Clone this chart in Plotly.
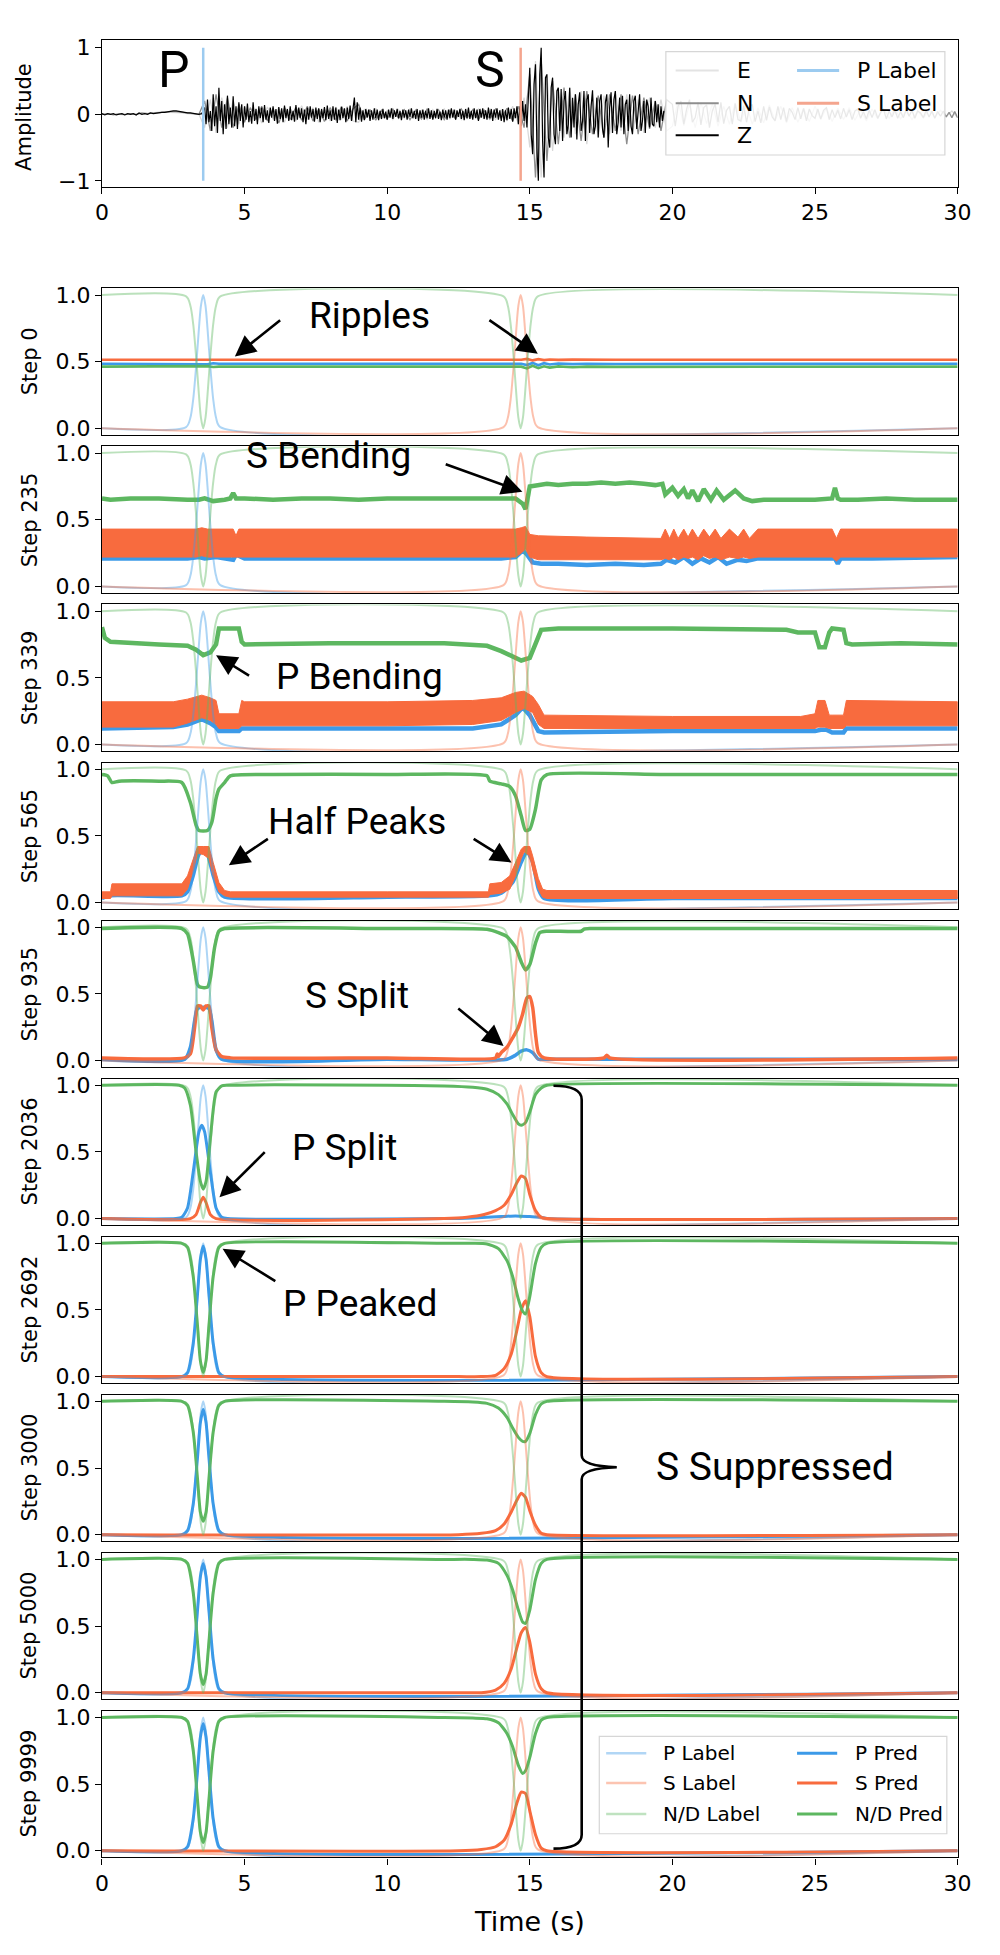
import plotly.graph_objects as go

# ====================== DATA ======================
# Seismogram (top panel), amplitudes
Z_PRE_DT = 0.1        # Z before the P onset, sampled every 0.1 s from t=0
Z_PRE_AMP = [
    0.01, -0.01, 0.01, 0.00, 0.01, -0.01, 0.00, 0.01, -0.01, 0.01,
    0.00, 0.01, -0.01, 0.02, 0.00, 0.01, 0.00, 0.02, 0.01, 0.02,
    0.02, 0.03, 0.03, 0.04, 0.05, 0.05, 0.05, 0.04,
    0.04, 0.03, 0.02, 0.02, 0.01, 0.01, 0.00, 0.01,
]
Z_EVENT_T0 = 3.6      # Z after the P onset, sampled every 0.05 s
Z_EVENT_DT = 0.05
Z_EVENT_AMP = [
    0.10, -0.15, 0.22, -0.12, 0.05, -0.25, 0.30, -0.18, 0.12, -0.28, 0.40, -0.10, 0.20, -0.30, 0.15, -0.22, 0.28, -0.15, 0.10, -0.20,
    0.27, -0.18, 0.12, -0.22, 0.18, -0.10, 0.15, -0.20, 0.12, -0.08, 0.16, -0.12, 0.05, -0.14, 0.18, -0.10, 0.08, -0.15, 0.12, -0.06,
    0.10, -0.12, 0.14, -0.08, 0.06, -0.13, 0.10, -0.05, 0.12, -0.10, 0.08, -0.14, 0.11, -0.07, 0.09, -0.12, 0.13, -0.06, 0.08, -0.10,
    0.12, -0.09, 0.05, -0.11, 0.14, -0.08, 0.10, -0.06, 0.09, -0.12, 0.07, -0.15, 0.10, -0.08, 0.12, -0.05, 0.08, -0.11, 0.10, -0.07,
    0.09, -0.12, 0.08, -0.06, 0.11, -0.09, 0.13, -0.07, 0.06, -0.10, 0.12, -0.08, 0.10, -0.13, 0.07, -0.09, 0.11, -0.06, 0.09, -0.12,
    0.10, -0.07, 0.13, -0.10, 0.08, 0.25, -0.12, 0.18, -0.08, 0.10, -0.11, 0.06, -0.09, 0.08, -0.05, 0.07, -0.10, 0.06, -0.08, 0.09,
    -0.06, 0.07, -0.09, 0.05, -0.07, 0.08, -0.06, 0.04, -0.08, 0.07, -0.05, 0.09, -0.07, 0.06, -0.04, 0.08, -0.06, 0.05, -0.09, 0.07,
    -0.05, 0.06, -0.08, 0.07, -0.04, 0.09, -0.06, 0.05, -0.07, 0.08, -0.10, 0.06, -0.05, 0.07, -0.08, 0.05, -0.06, 0.09, -0.07, 0.06,
    -0.08, 0.05, -0.06, 0.08, -0.07, 0.04, -0.09, 0.07, -0.05, 0.06, -0.08, 0.07, -0.06, 0.09, -0.05, 0.07, -0.08, 0.06, -0.04, 0.08,
    -0.07, 0.05, -0.09, 0.08, -0.06, 0.10, -0.07, 0.05, -0.08, 0.09, -0.06, 0.07, -0.10, 0.08, -0.05, 0.09, -0.07, 0.06, -0.08, 0.10,
    -0.06, 0.08, -0.10, 0.07, -0.05, 0.09, -0.08, 0.06, -0.10, 0.08, -0.12, 0.06, -0.09, 0.10, -0.07, 0.08, -0.11, 0.09, -0.06, 0.12,
    -0.15, 0.12, -0.18, 0.20, -0.10, 0.15, -0.20, 0.18, 0.70, -0.30, -0.60, 0.45, 0.75, -0.50, -1.00, 0.60, 1.00, -0.40, -0.95, 0.55,
    0.60, -0.35, -0.50, 0.40, 0.55, -0.30, -0.45, 0.35, 0.40, -0.25, 0.38, -0.40, 0.20, 0.35, -0.30, -0.15, 0.40, -0.35, 0.25, -0.20,
    0.30, -0.38, 0.15, 0.33, -0.25, -0.10, 0.35, -0.40, 0.22, 0.30, -0.28, 0.12, 0.36, -0.30, -0.18, 0.25, -0.35, 0.20, 0.30, -0.22,
    -0.35, 0.18, 0.30, -0.50, 0.10, 0.33, -0.28, 0.22, 0.35, -0.30, -0.12, 0.25, -0.20, 0.28, -0.30, 0.15, 0.22, -0.25, 0.30, -0.18,
    -0.30, 0.20, 0.28, -0.22, 0.10, 0.30, -0.25, -0.10, 0.20, -0.28, 0.22, 0.12, -0.20, 0.25, -0.15, -0.18, 0.20, -0.12, 0.15, -0.20,
    0.12, -0.10, 0.05,
]
N_HEAD_DT = 0.2       # N from t=0 to 19.8 s, every 0.2 s
N_HEAD_AMP = [
    0.00, 0.01, -0.01, 0.01, 0.00, 0.01, 0.00, 0.02, 0.01, 0.02,
    0.02, 0.03, 0.04, 0.04, 0.03, 0.02, 0.01, 0.00,
    0.20, -0.25, 0.30, -0.20, 0.25, -0.20, 0.15,
    -0.12, 0.10, -0.08, 0.12, -0.10, 0.09, -0.13, 0.10, -0.08, 0.11,
    -0.09, 0.12, -0.10, 0.08, -0.11, 0.10, -0.09, 0.12, -0.10, 0.08, 0.15,
    -0.08, 0.07, -0.09, 0.06, -0.07, 0.08, -0.06, 0.07, -0.08, 0.06,
    -0.07, 0.08, -0.06, 0.07, -0.08, 0.06, -0.07, 0.08, -0.06, 0.07,
    -0.08, 0.06, -0.07, 0.08, -0.06, 0.09, -0.10, 0.12,
    -0.20, 0.60, -0.95, 0.85, -0.70, 0.50, -0.45,
    0.40, -0.35, 0.30, -0.40, 0.35, -0.30, 0.28, -0.35, 0.30, -0.25,
    0.30, -0.45, 0.28, -0.30, 0.25, -0.22, 0.20, -0.25, 0.22,
]
N_TAIL_T0 = 20.0      # N from 20 s to 30 s, every 0.1 s
N_TAIL_DT = 0.1
N_TAIL_AMP = [
    0.15, -0.18, 0.12, 0.20, -0.15, 0.08, 0.22, -0.12, -0.05, 0.18,
    -0.16, 0.10, 0.14, -0.20, 0.05, 0.15, -0.12, 0.18, -0.14, 0.06,
    0.12, -0.15, 0.16, -0.08, -0.10, 0.13, -0.12, 0.10, 0.15, -0.11,
    0.05, -0.13, 0.12, -0.09, 0.11, -0.04, -0.10, 0.12, -0.08, 0.10,
    -0.11, 0.09, 0.03, -0.08, 0.10, -0.07, 0.09, -0.10, 0.08, -0.02,
    -0.06, 0.08, -0.07, 0.06, 0.10, -0.08, 0.07, -0.05, 0.06, -0.07,
    0.09, -0.04, 0.07, -0.08, 0.05, 0.08, -0.06, 0.04, -0.07, 0.06,
    -0.05, 0.07, -0.06, 0.03, 0.08, -0.07, 0.05, -0.04, 0.06, -0.06,
    0.04, -0.05, 0.07, -0.03, 0.06, -0.06, 0.05, 0.02, -0.05, 0.06,
    -0.04, 0.05, -0.06, 0.04, -0.03, 0.05, -0.04, 0.03, -0.05, 0.04,
    -0.05,
]
E_DT = 0.2
E_AMP = [
    0.00, 0.00, 0.01, 0.00, -0.01, 0.01, 0.00, 0.01, 0.02, 0.03,
    0.03, 0.04, 0.03, 0.03, 0.02, 0.01, 0.00, 0.00,
    -0.20, 0.22, -0.28, 0.25, -0.20, 0.22, -0.15,
    0.12, -0.10, 0.09, -0.13, 0.11, -0.08, 0.10, -0.12, 0.09, -0.10,
    0.13, -0.08, 0.10, -0.12, 0.09, -0.10, 0.11, -0.08, 0.12, -0.10, -0.12,
    0.08, -0.06, 0.09, -0.07, 0.06, -0.08, 0.07, -0.06, 0.08, -0.07,
    0.06, -0.08, 0.07, -0.06, 0.08, -0.07, 0.06, -0.08, 0.07, -0.06,
    0.08, -0.07, 0.06, -0.08, 0.07, -0.10, 0.12, -0.15,
    0.25, -0.50, 0.80, -0.95, 0.60, -0.55, 0.40,
    -0.35, 0.40, -0.30, 0.35, -0.45, 0.30, -0.35, 0.28, -0.30, 0.35,
    -0.25, 0.30, -0.30, 0.22, -0.28, 0.25, -0.20, 0.22, -0.25, -0.18,
    0.20, -0.17, 0.15, -0.20, 0.18, -0.14, 0.16, -0.18, 0.12, -0.15,
    0.17, -0.12, 0.14, -0.15, 0.10, -0.13, 0.14, -0.10, 0.12, -0.13,
    0.10, -0.12, 0.09, -0.11, 0.12, -0.08, 0.10, -0.11, 0.09, -0.08,
    0.10, -0.09, 0.07, -0.10, 0.08, -0.07, 0.09, -0.06, 0.08, -0.07,
    0.06, -0.08, 0.05, -0.06, 0.07, -0.05, 0.06, -0.04, 0.05, -0.05,
]

# Phase labels
P_ARRIVAL = 3.55
S_ARRIVAL = 14.68
LABEL_OFFSETS = [-0.6, -0.45, -0.35, -0.25, -0.15, -0.08, 0, 0.08, 0.15, 0.25, 0.35, 0.45, 0.6]
LABEL_PEAK = [0.01, 0.08, 0.22, 0.46, 0.75, 0.92, 1.0, 0.92, 0.75, 0.46, 0.22, 0.08, 0.01]
ND_LABEL_DIP = [0.99, 0.92, 0.78, 0.54, 0.25, 0.08, 0.0, 0.08, 0.25, 0.54, 0.78, 0.92, 0.99]

STEP_NAMES = ["Step 0", "Step 235", "Step 339", "Step 565", "Step 935",
              "Step 2036", "Step 2692", "Step 3000", "Step 5000", "Step 9999"]

# --- Step 0
S0_T = [0, 3.5, 3.7, 3.9, 4.1, 14.7, 14.9, 15.1, 15.3, 15.5, 15.7, 16.0, 16.5, 17.0, 18.0, 30]
S0_P = [0.485, 0.485, 0.481, 0.489, 0.485, 0.485, 0.475, 0.491, 0.473, 0.489, 0.479, 0.487, 0.482, 0.485, 0.483, 0.485]
S0_S = [0.515, 0.515, 0.513, 0.516, 0.515, 0.515, 0.521, 0.51, 0.519, 0.512, 0.517, 0.514, 0.516, 0.515, 0.515, 0.515]
S0_N = [0.463, 0.463, 0.467, 0.46, 0.463, 0.463, 0.45, 0.47, 0.452, 0.466, 0.456, 0.465, 0.459, 0.463, 0.461, 0.463]

# --- Step 235
G235_T = [0, 0.3, 1, 2, 3, 3.4, 3.6, 3.9, 4.3, 4.5, 4.6, 4.7, 5, 6, 7, 8, 9, 10, 11, 12, 13, 14, 14.5,
          14.75, 14.85, 15.0, 15.3, 15.6, 16, 16.5, 17, 17.5, 18, 18.5, 19, 19.4, 19.65, 19.75, 20.0,
          20.2, 20.4, 20.55, 20.7, 20.9, 21.1, 21.35, 21.55, 21.8, 22.2, 22.5, 22.8, 23.2, 24, 25,
          25.6, 25.7, 25.8, 25.9, 26.5, 27.5, 28.5, 30]
G235_Y = [0.66, 0.65, 0.66, 0.66, 0.65, 0.65, 0.66, 0.64, 0.65, 0.66, 0.7, 0.66, 0.66, 0.65, 0.66,
          0.66, 0.65, 0.66, 0.66, 0.66, 0.66, 0.66, 0.66, 0.62, 0.58, 0.75, 0.76, 0.77, 0.76, 0.77,
          0.77, 0.78, 0.77, 0.78, 0.77, 0.76, 0.77, 0.69, 0.74, 0.68, 0.73, 0.66, 0.72, 0.64, 0.73,
          0.65, 0.72, 0.65, 0.72, 0.66, 0.64, 0.65, 0.65, 0.65, 0.66, 0.74, 0.66, 0.65, 0.65, 0.66,
          0.65, 0.65]
B235_T = [0, 3.3, 3.5, 3.7, 4.6, 4.7, 4.8, 14.5, 14.7, 14.85, 15.0, 15.3, 17, 19.6, 19.75, 19.9,
          20.05, 20.2, 20.4, 20.55, 20.7, 20.9, 21.1, 21.3, 21.5, 21.7, 22.0, 22.3, 22.5, 22.7, 23.0,
          23.2, 25.6, 25.75, 25.9, 30]
B235_HI = [0.43, 0.43, 0.44, 0.43, 0.43, 0.38, 0.43, 0.43, 0.44, 0.45, 0.39, 0.38, 0.37, 0.36, 0.43,
           0.36, 0.43, 0.36, 0.43, 0.37, 0.43, 0.36, 0.43, 0.37, 0.43, 0.36, 0.43, 0.37, 0.43, 0.36,
           0.43, 0.43, 0.43, 0.36, 0.43, 0.43]
B235_LO = [0.22, 0.22, 0.23, 0.22, 0.22, 0.22, 0.22, 0.22, 0.25, 0.28, 0.22, 0.2, 0.2, 0.2, 0.21,
           0.2, 0.22, 0.2, 0.22, 0.21, 0.22, 0.2, 0.23, 0.21, 0.22, 0.2, 0.22, 0.21, 0.22, 0.21,
           0.22, 0.22, 0.22, 0.19, 0.22, 0.22]
P235_T = [0, 3, 3.4, 3.6, 4.0, 4.6, 4.7, 5, 10, 14, 14.5, 14.75, 14.9, 15.1, 15.4, 16, 17, 18, 19,
          19.6, 19.8, 20.1, 20.4, 20.7, 21.0, 21.3, 21.6, 21.9, 22.3, 22.6, 23.0, 24, 25, 25.7, 25.8,
          25.9, 27, 30]
P235_Y = [0.21, 0.21, 0.22, 0.21, 0.22, 0.2, 0.24, 0.21, 0.21, 0.21, 0.22, 0.27, 0.24, 0.18, 0.17,
          0.17, 0.16, 0.17, 0.16, 0.17, 0.2, 0.18, 0.22, 0.17, 0.21, 0.18, 0.22, 0.17, 0.2, 0.19,
          0.21, 0.21, 0.21, 0.21, 0.17, 0.21, 0.21, 0.22]

# --- Step 339
G339_T = [0, 0.1, 0.3, 1, 2, 3, 3.3, 3.55, 3.8, 4.0, 4.1, 4.8, 4.9, 5, 8, 12, 13.5, 14, 14.4, 14.7,
          15.0, 15.2, 15.4, 16, 20, 24, 24.4, 25, 25.15, 25.35, 25.5, 25.6, 26.0, 26.1, 26.3, 28, 30]
G339_Y = [0.88, 0.8, 0.77, 0.76, 0.75, 0.74, 0.71, 0.67, 0.69, 0.75, 0.87, 0.87, 0.77, 0.75, 0.76,
          0.76, 0.74, 0.7, 0.66, 0.63, 0.65, 0.75, 0.86, 0.87, 0.87, 0.86, 0.84, 0.84, 0.73, 0.73,
          0.84, 0.87, 0.86, 0.76, 0.75, 0.76, 0.75]
B339_T = [0, 2.5, 3.0, 3.5, 3.8, 4.0, 4.1, 4.8, 4.9, 5, 10, 13, 14, 14.5, 14.8, 15.1, 15.3, 15.5, 20,
          24.5, 25.0, 25.1, 25.35, 25.5, 25.6, 26.0, 26.1, 30]
B339_HI = [0.32, 0.32, 0.34, 0.37, 0.35, 0.33, 0.23, 0.23, 0.33, 0.32, 0.32, 0.33, 0.35, 0.39, 0.40,
           0.36, 0.30, 0.22, 0.21, 0.21, 0.23, 0.33, 0.33, 0.22, 0.22, 0.22, 0.33, 0.32]
B339_LO = [0.13, 0.13, 0.16, 0.2, 0.18, 0.15, 0.12, 0.12, 0.14, 0.14, 0.14, 0.15, 0.18, 0.24, 0.27,
           0.24, 0.15, 0.12, 0.12, 0.12, 0.12, 0.13, 0.13, 0.12, 0.12, 0.12, 0.14, 0.14]
P339_T = [0, 2.5, 3.0, 3.5, 3.8, 4.0, 4.1, 4.8, 4.9, 5, 13, 14, 14.5, 14.75, 15.0, 15.3, 15.5, 20, 25,
          25.2, 25.4, 25.6, 26.0, 26.1, 30]
P339_Y = [0.12, 0.13, 0.15, 0.19, 0.16, 0.13, 0.1, 0.1, 0.12, 0.12, 0.12, 0.15, 0.22, 0.28, 0.22,
          0.1, 0.09, 0.1, 0.1, 0.11, 0.11, 0.09, 0.09, 0.12, 0.12]

# --- Step 565
G565_T = [0, 0.2, 0.35, 0.6, 2, 2.8, 3.1, 3.3, 3.4, 3.7, 3.85, 4.0, 4.1, 4.3, 4.5, 6, 10, 13.5, 13.6,
          14.0, 14.3, 14.5, 14.7, 14.85, 15.0, 15.2, 15.4, 15.6, 20, 25, 30]
G565_Y = [0.96, 0.95, 0.9, 0.91, 0.91, 0.9, 0.75, 0.58, 0.54, 0.54, 0.6, 0.78, 0.85, 0.9, 0.95, 0.96,
          0.96, 0.95, 0.91, 0.89, 0.87, 0.8, 0.65, 0.54, 0.55, 0.7, 0.92, 0.96, 0.96, 0.96, 0.96]
B565_T = [0, 0.3, 0.35, 2.8, 3.0, 3.2, 3.35, 3.55, 3.75, 3.9, 4.1, 4.3, 4.5, 10, 13.55, 13.6, 14.0,
          14.3, 14.5, 14.7, 14.8, 15.0, 15.1, 15.3, 15.45, 15.6, 20, 30]
B565_HI = [0.08, 0.08, 0.14, 0.14, 0.2, 0.33, 0.42, 0.42, 0.42, 0.3, 0.15, 0.09, 0.08, 0.08, 0.08,
           0.14, 0.15, 0.2, 0.3, 0.4, 0.42, 0.42, 0.35, 0.18, 0.1, 0.09, 0.09, 0.09]
B565_LO = [0.03, 0.03, 0.05, 0.05, 0.1, 0.24, 0.37, 0.36, 0.33, 0.2, 0.08, 0.05, 0.04, 0.04, 0.04,
           0.06, 0.07, 0.1, 0.2, 0.33, 0.38, 0.35, 0.25, 0.1, 0.04, 0.03, 0.03, 0.03]
P565_T = [0, 0.3, 2.8, 3.0, 3.2, 3.4, 3.55, 3.7, 3.9, 4.1, 4.3, 10, 13.6, 14.0, 14.4, 14.7, 14.9,
          15.1, 15.3, 15.5, 20, 30]
P565_Y = [0.03, 0.05, 0.05, 0.08, 0.2, 0.36, 0.39, 0.36, 0.2, 0.08, 0.04, 0.04, 0.05, 0.07, 0.15,
          0.3, 0.38, 0.3, 0.1, 0.03, 0.03, 0.03]

# --- Step 935
G935_T = [0, 2.8, 3.0, 3.2, 3.35, 3.45, 3.7, 3.8, 3.95, 4.1, 4.3, 10, 13.5, 13.9, 14.2, 14.5, 14.7,
          14.85, 15.0, 15.2, 15.35, 15.6, 16.8, 16.9, 17.1, 20, 30]
G935_Y = [0.99, 0.99, 0.95, 0.75, 0.57, 0.55, 0.55, 0.62, 0.85, 0.97, 0.99, 0.99, 0.985, 0.96, 0.93,
          0.85, 0.74, 0.68, 0.72, 0.88, 0.96, 0.97, 0.97, 0.985, 0.99, 0.99, 0.99]
S935_T = [0, 2.9, 3.1, 3.25, 3.35, 3.45, 3.55, 3.65, 3.75, 3.85, 4.0, 4.2, 4.5, 10, 13.8, 13.86,
          13.9, 14.0, 14.2, 14.4, 14.6, 14.75, 14.9, 15.0, 15.1, 15.2, 15.3, 15.5, 17.6, 17.7, 17.8, 30]
S935_Y = [0.02, 0.02, 0.05, 0.25, 0.41, 0.41, 0.38, 0.41, 0.41, 0.25, 0.08, 0.03, 0.02, 0.02, 0.02,
          0.05, 0.03, 0.06, 0.1, 0.17, 0.25, 0.35, 0.47, 0.48, 0.4, 0.2, 0.06, 0.02, 0.02, 0.04,
          0.02, 0.02]
P935_T = [0, 2.9, 3.1, 3.25, 3.35, 3.55, 3.75, 3.85, 4.0, 4.2, 10, 14.2, 14.5, 14.7, 14.9, 15.1,
          15.3, 15.5, 30]
P935_Y = [0.01, 0.01, 0.1, 0.3, 0.39, 0.4, 0.39, 0.3, 0.08, 0.01, 0.01, 0.01, 0.04, 0.07, 0.08,
          0.06, 0.01, 0.01, 0.01]

# --- Step 2036
G2036_T = [0, 2.7, 2.9, 3.1, 3.3, 3.45, 3.55, 3.65, 3.8, 4.0, 4.2, 4.4, 10, 12, 13, 13.5, 13.9,
           14.2, 14.4, 14.6, 14.7, 14.85, 15.0, 15.2, 15.4, 15.6, 30]
G2036_Y = [1.0, 1.0, 0.98, 0.85, 0.5, 0.28, 0.22, 0.28, 0.6, 0.95, 0.995, 1.0, 1.0, 0.995, 0.985,
           0.97, 0.93, 0.86, 0.78, 0.71, 0.7, 0.72, 0.8, 0.93, 0.98, 1.0, 1.0]
P2036_T = [0, 2.6, 2.8, 3.0, 3.2, 3.4, 3.5, 3.6, 3.8, 4.0, 4.2, 4.4, 12, 13, 14, 14.5, 15, 15.4,
           15.6, 30]
P2036_Y = [0, 0, 0.01, 0.08, 0.35, 0.65, 0.7, 0.65, 0.35, 0.08, 0.01, 0, 0, 0.005, 0.015, 0.02,
           0.015, 0.01, 0, 0]
S2036_T = [0, 3.1, 3.3, 3.45, 3.55, 3.65, 3.8, 4.0, 12, 12.8, 13.4, 13.8, 14.1, 14.35, 14.55, 14.7,
           14.85, 15.0, 15.2, 15.4, 15.6, 30]
S2036_Y = [0, 0, 0.03, 0.12, 0.16, 0.12, 0.03, 0, 0, 0.01, 0.03, 0.06, 0.1, 0.18, 0.27, 0.32, 0.3,
           0.18, 0.06, 0.01, 0, 0]

# --- Steps 2692 / 3000 / 5000 / 9999 (shared sampling times)
PK_T = [0, 2.8, 3.0, 3.2, 3.35, 3.45, 3.55, 3.65, 3.75, 3.9, 4.1, 4.3, 30]
P2692_Y = [0, 0, 0.03, 0.25, 0.62, 0.88, 0.98, 0.88, 0.62, 0.25, 0.03, 0, 0]
P3000_Y = [0, 0, 0.03, 0.23, 0.58, 0.84, 0.94, 0.84, 0.58, 0.23, 0.03, 0, 0]
P5000_Y = [0, 0, 0.03, 0.25, 0.62, 0.87, 0.97, 0.87, 0.62, 0.25, 0.03, 0, 0]
P9999_Y = [0, 0, 0.03, 0.24, 0.6, 0.85, 0.955, 0.85, 0.6, 0.24, 0.03, 0, 0]

GS_T = [0, 2.8, 3.0, 3.2, 3.35, 3.45, 3.55, 3.65, 3.75, 3.9, 4.1, 4.3,
        12, 13, 13.5, 13.9, 14.2, 14.4, 14.6, 14.75, 14.85, 15.0, 15.2, 15.4, 15.6, 30]
G2692_Y = [1, 1, 0.97, 0.75, 0.38, 0.12, 0.03, 0.12, 0.38, 0.75, 0.97, 1,
           1, 1, 0.995, 0.96, 0.87, 0.75, 0.58, 0.49, 0.47, 0.6, 0.85, 0.97, 1, 1]
G3000_Y = [1, 1, 0.97, 0.77, 0.42, 0.17, 0.1, 0.17, 0.42, 0.77, 0.97, 1,
           1, 0.995, 0.985, 0.95, 0.88, 0.8, 0.73, 0.7, 0.7, 0.76, 0.9, 0.98, 1, 1]
G5000_Y = [1, 1, 0.97, 0.75, 0.38, 0.14, 0.06, 0.14, 0.38, 0.75, 0.97, 1,
           1, 1, 0.995, 0.97, 0.88, 0.77, 0.62, 0.53, 0.52, 0.62, 0.85, 0.97, 1, 1]
G9999_Y = [1, 1, 0.97, 0.75, 0.38, 0.14, 0.06, 0.14, 0.38, 0.75, 0.97, 1,
           1, 0.995, 0.99, 0.96, 0.88, 0.78, 0.64, 0.58, 0.6, 0.7, 0.88, 0.98, 1, 1]

SP_T = [0, 12.5, 13.3, 13.8, 14.1, 14.35, 14.55, 14.7, 14.85, 15.0, 15.2, 15.4, 15.6, 30]
S2692_Y = [0, 0, 0, 0.01, 0.06, 0.17, 0.35, 0.5, 0.57, 0.45, 0.15, 0.03, 0, 0]
S3000_Y = [0, 0, 0.01, 0.03, 0.08, 0.17, 0.26, 0.31, 0.28, 0.18, 0.07, 0.01, 0, 0]
S5000_Y = [0, 0, 0, 0.02, 0.07, 0.18, 0.34, 0.45, 0.49, 0.38, 0.14, 0.03, 0, 0]
S9999_Y = [0, 0, 0.01, 0.03, 0.08, 0.2, 0.36, 0.44, 0.43, 0.3, 0.12, 0.02, 0, 0]

X_TICKS = [0, 5, 10, 15, 20, 25, 30]

# ====================== STYLE / LAYOUT ======================
W, H = 1000, 1955
X0_PX, X1_PX = 97, 971
TOP_FRAME_PX = (34, 182)
STEP_ONE_PX = 291.0     # pixel row of y=1 in first step panel
STEP_PITCH = 159.1
STEP_UNIT = 134.2

P_COLOR = "#3C9AE8"
S_COLOR = "#F86B3E"
N_COLOR = "#5DB760"
P_LAB = "rgba(60,154,232,0.42)"
S_LAB = "rgba(248,107,62,0.42)"
N_LAB = "rgba(93,183,96,0.42)"
TICK_FONT = dict(family="DejaVu Sans", size=22, color="black")
ANN_FONT = "Roboto"


def pyd(px):
    return 1 - px / H


def ids(k):
    return ("x", "y") if k == 1 else (f"x{k}", f"y{k}")


fig = go.Figure()
layout = dict(width=W, height=H, margin=dict(l=0, r=0, t=0, b=0),
              paper_bgcolor="white", plot_bgcolor="white", showlegend=False)


def add_axes(k, dom, yr, yvals, ytext, xlabels):
    xa = "xaxis" if k == 1 else f"xaxis{k}"
    ya = "yaxis" if k == 1 else f"yaxis{k}"
    xr, yrf = ids(k)
    layout[xa] = dict(domain=[X0_PX / W, X1_PX / W], range=[0, 30], anchor=yrf,
                      showline=True, mirror=True, linecolor="black", linewidth=1.3,
                      showgrid=False, zeroline=False,
                      ticks="outside" if xlabels else "", ticklen=6, tickwidth=1.3,
                      tickcolor="black", showticklabels=xlabels, tickvals=X_TICKS,
                      tickfont=TICK_FONT, fixedrange=True)
    layout[ya] = dict(domain=dom, range=yr, anchor=xr, showline=True, mirror=True,
                      linecolor="black", linewidth=1.3, showgrid=False, zeroline=False,
                      ticks="outside", ticklen=6, tickwidth=1.3, tickcolor="black",
                      tickvals=yvals, ticktext=ytext, tickfont=TICK_FONT, fixedrange=True)


# ---- top panel
add_axes(1, [pyd(TOP_FRAME_PX[1]), pyd(TOP_FRAME_PX[0])], [-1.09, 1.12],
         [-1, 0, 1], ["\u22121", "0", "1"], True)
e_t = [round(i * E_DT, 3) for i in range(len(E_AMP))]
n_t = ([round(i * N_HEAD_DT, 3) for i in range(len(N_HEAD_AMP))]
       + [round(N_TAIL_T0 + i * N_TAIL_DT, 3) for i in range(len(N_TAIL_AMP))])
n_y = N_HEAD_AMP + N_TAIL_AMP
z_t = ([round(i * Z_PRE_DT, 3) for i in range(len(Z_PRE_AMP))]
       + [round(Z_EVENT_T0 + i * Z_EVENT_DT, 3) for i in range(len(Z_EVENT_AMP))])
z_y = Z_PRE_AMP + Z_EVENT_AMP
fig.add_trace(go.Scatter(x=e_t, y=E_AMP, mode="lines", line=dict(color="#d8d8d8", width=1.2),
                         xaxis="x", yaxis="y", name="E"))
fig.add_trace(go.Scatter(x=n_t, y=n_y, mode="lines", line=dict(color="#8e8e8e", width=1.3),
                         xaxis="x", yaxis="y", name="N"))
fig.add_trace(go.Scatter(x=z_t, y=z_y, mode="lines", line=dict(color="black", width=1.2),
                         xaxis="x", yaxis="y", name="Z"))
fig.add_trace(go.Scatter(x=[P_ARRIVAL, P_ARRIVAL], y=[-1, 1], mode="lines",
                         line=dict(color="#9ccbf0", width=2.5), xaxis="x", yaxis="y", name="P Label"))
fig.add_trace(go.Scatter(x=[S_ARRIVAL, S_ARRIVAL], y=[-1, 1], mode="lines",
                         line=dict(color="#f4a58e", width=2.5), xaxis="x", yaxis="y", name="S Label"))

# ---- label curves
p_lab_x = [0] + [P_ARRIVAL + o for o in LABEL_OFFSETS] + [30]
p_lab_y = [0] + LABEL_PEAK + [0]
s_lab_x = [0] + [S_ARRIVAL + o for o in LABEL_OFFSETS] + [30]
s_lab_y = [0] + LABEL_PEAK + [0]
n_lab_x = [0] + [P_ARRIVAL + o for o in LABEL_OFFSETS] + [S_ARRIVAL + o for o in LABEL_OFFSETS] + [30]
n_lab_y = [1] + ND_LABEL_DIP + ND_LABEL_DIP + [1]

# ---- step panel specs (built from the named arrays)
STEPS = [
    dict(P=("line", S0_T, S0_P), S=("line", S0_T, S0_S), N=("line", S0_T, S0_N), smooth=False, w=2.6),
    dict(P=("line", P235_T, P235_Y), S=("band", B235_T, B235_LO, B235_HI), N=("line", G235_T, G235_Y), smooth=False, w=4.5),
    dict(P=("line", P339_T, P339_Y), S=("band", B339_T, B339_LO, B339_HI), N=("line", G339_T, G339_Y), smooth=False, w=4.5),
    dict(P=("line", P565_T, P565_Y), S=("band", B565_T, B565_LO, B565_HI), N=("line", G565_T, G565_Y), smooth=True, w=3.5),
    dict(P=("line", P935_T, P935_Y), S=("line", S935_T, S935_Y), N=("line", G935_T, G935_Y), smooth=True, w=3.5),
    dict(P=("line", P2036_T, P2036_Y), S=("line", S2036_T, S2036_Y), N=("line", G2036_T, G2036_Y), smooth=True, w=3),
    dict(P=("line", PK_T, P2692_Y), S=("line", SP_T, S2692_Y), N=("line", GS_T, G2692_Y), smooth=True, w=3),
    dict(P=("line", PK_T, P3000_Y), S=("line", SP_T, S3000_Y), N=("line", GS_T, G3000_Y), smooth=True, w=3),
    dict(P=("line", PK_T, P5000_Y), S=("line", SP_T, S5000_Y), N=("line", GS_T, G5000_Y), smooth=True, w=3),
    dict(P=("line", PK_T, P9999_Y), S=("line", SP_T, S9999_Y), N=("line", GS_T, G9999_Y), smooth=True, w=3),
]

annotations = []
shapes = []

for i, spec in enumerate(STEPS):
    k = i + 2
    xr, yr = ids(k)
    one_px = STEP_ONE_PX + STEP_PITCH * i
    top_px = one_px - 0.05 * STEP_UNIT
    bot_px = one_px + 1.05 * STEP_UNIT
    add_axes(k, [pyd(bot_px), pyd(top_px)], [-0.05, 1.05], [0, 0.5, 1],
             ["0.0", "0.5", "1.0"], i == len(STEPS) - 1)
    shape = "spline" if spec["smooth"] else "linear"
    for key, col in (("P", P_COLOR), ("S", S_COLOR), ("N", N_COLOR)):
        s = spec[key]
        if s[0] == "band":
            t, lo, hi = s[1], s[2], s[3]
            n = min(len(t), len(lo), len(hi))
            t, lo, hi = t[:n], lo[:n], hi[:n]
            fig.add_trace(go.Scatter(x=t + t[::-1], y=hi + lo[::-1], mode="lines", fill="toself",
                                     fillcolor=col, line=dict(color=col, width=1),
                                     xaxis=xr, yaxis=yr))
        else:
            t, y = s[1], s[2]
            n = min(len(t), len(y))
            fig.add_trace(go.Scatter(x=t[:n], y=y[:n], mode="lines",
                                     line=dict(color=col, width=spec["w"], shape=shape, smoothing=0.6),
                                     xaxis=xr, yaxis=yr))
    for lx, ly, col in ((p_lab_x, p_lab_y, P_LAB), (s_lab_x, s_lab_y, S_LAB), (n_lab_x, n_lab_y, N_LAB)):
        fig.add_trace(go.Scatter(x=lx, y=ly, mode="lines",
                                 line=dict(color=col, width=2, shape="spline", smoothing=0.8),
                                 xaxis=xr, yaxis=yr))
    annotations.append(dict(text=STEP_NAMES[i], xref="paper", yref="paper", x=23 / W,
                            y=pyd(one_px + 0.5 * STEP_UNIT), textangle=-90, showarrow=False,
                            font=dict(family="DejaVu Sans", size=21, color="black"),
                            xanchor="center", yanchor="middle"))

annotations.append(dict(text="Amplitude", xref="paper", yref="paper", x=18 / W, y=pyd(112),
                        textangle=-90, showarrow=False,
                        font=dict(family="DejaVu Sans", size=21, color="black"),
                        xanchor="center", yanchor="middle"))
annotations.append(dict(text="Time (s)", xref="paper", yref="paper", x=(X0_PX + X1_PX) / 2 / W,
                        y=pyd(1928), showarrow=False,
                        font=dict(family="DejaVu Sans", size=27, color="black"),
                        xanchor="center", yanchor="middle"))

# ---- callouts (panel k, text, position in data coords, font size)
CALLOUTS = [
    (1, "P", 2.53, 0.66, 50), (1, "S", 13.6, 0.66, 50),
    (2, "Ripples", 9.37, 0.845, 37), (3, "S Bending", 7.95, 0.985, 37),
    (4, "P Bending", 9.04, 0.51, 37), (5, "Half Peaks", 8.93, 0.61, 37),
    (6, "S Split", 8.93, 0.49, 37), (7, "P Split", 8.5, 0.53, 37),
    (8, "P Peaked", 9.04, 0.545, 37),
]
for k, txt, x, y, sz in CALLOUTS:
    xr, yr = ids(k)
    annotations.append(dict(text=txt, xref=xr, yref=yr, x=x, y=y, showarrow=False,
                            font=dict(family=ANN_FONT, size=sz, color="black"),
                            xanchor="center", yanchor="middle"))
# arrows: panel k, tail (t,y) -> head (t,y)
ARROWS = [
    (2, 6.3, 0.82, 4.66, 0.54), (2, 13.53, 0.82, 15.28, 0.56),
    (3, 12.0, 0.92, 14.74, 0.71),
    (4, 5.21, 0.51, 4.0, 0.67),
    (5, 5.87, 0.485, 4.45, 0.28), (5, 12.98, 0.485, 14.36, 0.30),
    (6, 12.44, 0.40, 14.08, 0.11),
    (7, 5.76, 0.51, 4.12, 0.16),
    (8, 6.13, 0.71, 4.23, 0.96),
]
for k, tx, ty, hx, hy in ARROWS:
    xr, yr = ids(k)
    annotations.append(dict(text="", xref=xr, yref=yr, x=hx, y=hy, axref=xr, ayref=yr,
                            ax=tx, ay=ty, showarrow=True, arrowhead=2, arrowsize=1.6,
                            arrowwidth=2.6, arrowcolor="black", standoff=0, startstandoff=0))

# ---- curly brace + "S Suppressed"
b_top, b_tip, b_bot = 1087, 1471, 1855
brace = (f"M 15.83,{pyd(b_top)} Q 16.82,{pyd(b_top)} 16.82,{pyd(b_top + 14)} "
         f"L 16.82,{pyd(b_tip - 12)} Q 16.82,{pyd(b_tip - 1)} 18.05,{pyd(b_tip)} "
         f"Q 16.82,{pyd(b_tip + 1)} 16.82,{pyd(b_tip + 12)} "
         f"L 16.82,{pyd(b_bot - 14)} Q 16.82,{pyd(b_bot)} 15.83,{pyd(b_bot)}")
shapes.append(dict(type="path", path=brace, xref="x", yref="paper",
                   line=dict(color="black", width=2.6)))
annotations.append(dict(text="S Suppressed", xref="x", yref="paper", x=23.6, y=pyd(1471),
                        showarrow=False, font=dict(family=ANN_FONT, size=39, color="black"),
                        xanchor="center", yanchor="middle"))


# ---- legends (drawn boxes with line samples and text)
def legend_box(x0, y0, x1, y1):
    shapes.append(dict(type="rect", xref="paper", yref="paper", x0=x0 / W, x1=x1 / W,
                       y0=pyd(y1), y1=pyd(y0), fillcolor="rgba(255,255,255,0.8)",
                       line=dict(color="#d6d6d6", width=1.2), layer="above"))


def legend_item(lx0, lx1, tx, y, color, text, size, lw=3):
    shapes.append(dict(type="line", xref="paper", yref="paper", x0=lx0 / W, x1=lx1 / W,
                       y0=pyd(y), y1=pyd(y), line=dict(color=color, width=lw), layer="above"))
    annotations.append(dict(text=text, xref="paper", yref="paper", x=tx / W, y=pyd(y),
                            showarrow=False, xanchor="left", yanchor="middle",
                            font=dict(family="DejaVu Sans", size=size, color="black")))


legend_box(673, 46, 958, 150)
legend_item(683, 727, 744, 65, "#e3e3e3", "E", 22, 2)
legend_item(683, 727, 744, 98, "#8e8e8e", "N", 22, 2)
legend_item(683, 727, 744, 130, "black", "Z", 22, 2)
legend_item(807, 850, 866, 65, "#9ccbf0", "P Label", 22)
legend_item(807, 850, 866, 98, "#f4a58e", "S Label", 22)

legend_box(605, 1742, 960, 1840)
legend_item(612, 653, 668, 1759, "#b1d6f5", "P Label", 20, 2.5)
legend_item(612, 653, 668, 1789, "#fcc4b1", "S Label", 20, 2.5)
legend_item(612, 653, 668, 1820, "#bfe2c0", "N/D Label", 20, 2.5)
legend_item(807, 848, 864, 1759, P_COLOR, "P Pred", 20)
legend_item(807, 848, 864, 1789, S_COLOR, "S Pred", 20)
legend_item(807, 848, 864, 1820, N_COLOR, "N/D Pred", 20)

layout["annotations"] = annotations
layout["shapes"] = shapes
fig.update_layout(**layout)
fig.write_html("out.html")
